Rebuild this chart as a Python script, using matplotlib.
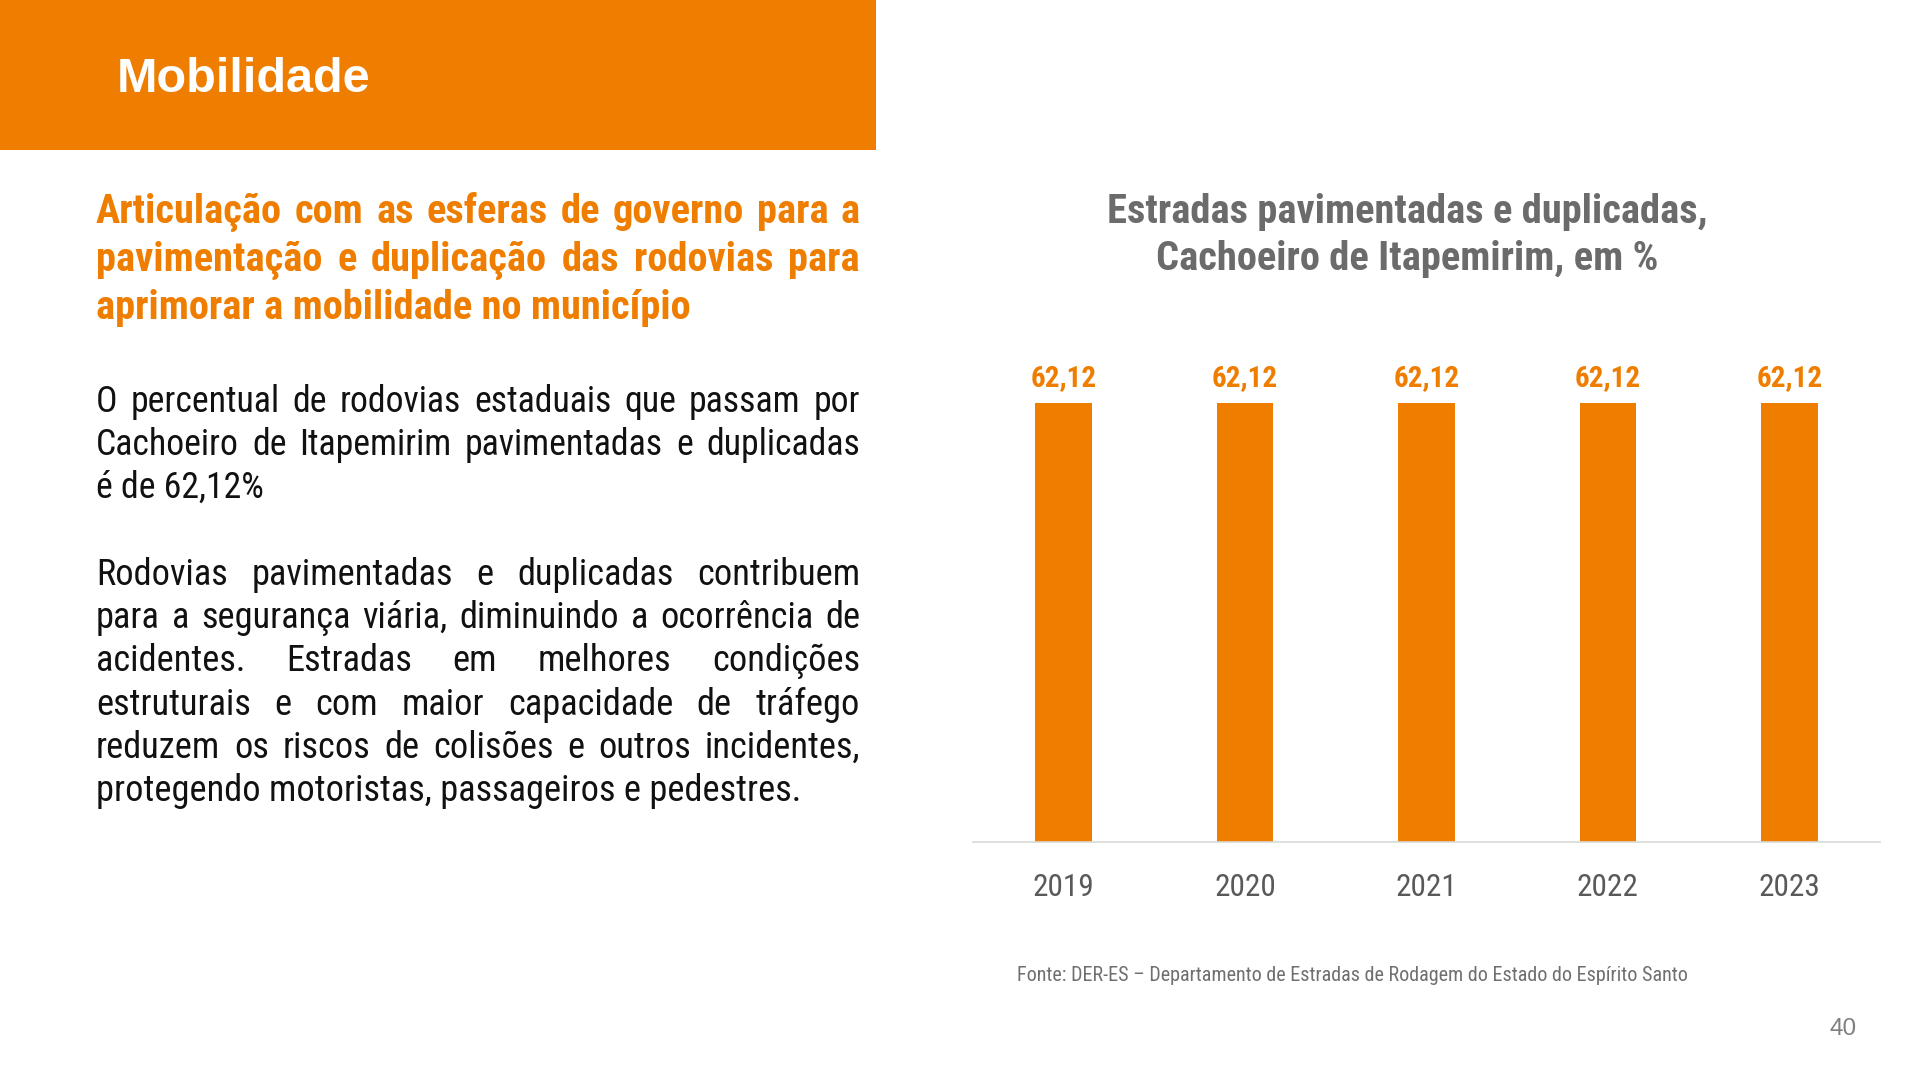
import numpy as np
import matplotlib
matplotlib.use("Agg")
import matplotlib.pyplot as plt
from matplotlib import font_manager as fm
from matplotlib.patches import Rectangle

# dados do gráfico
anos = ["2019", "2020", "2021", "2022", "2023"]
valores = [62.12, 62.12, 62.12, 62.12, 62.12]

titulo_pagina = "Mobilidade"
titulo_grafico = ["Estradas pavimentadas e duplicadas,", "Cachoeiro de Itapemirim, em %"]
fonte_txt = "Fonte: DER-ES \u2013 Departamento de Estradas de Rodagem do Estado do Espírito Santo"
pagina = "40"

destaque = ["Articulação com as esferas de governo para a",
            "pavimentação e duplicação das rodovias para",
            "aprimorar a mobilidade no município"]
paragrafo1 = ["O percentual de rodovias estaduais que passam por",
              "Cachoeiro de Itapemirim pavimentadas e duplicadas",
              "é de 62,12%"]
paragrafo2 = ["Rodovias pavimentadas e duplicadas contribuem",
              "para a segurança viária, diminuindo a ocorrência de",
              "acidentes. Estradas em melhores condições",
              "estruturais e com maior capacidade de tráfego",
              "reduzem os riscos de colisões e outros incidentes,",
              "protegendo motoristas, passageiros e pedestres."]

LARANJA = "#EE7D00"
W, H = 1920, 1080


# procura uma fonte condensada (parecida com a do relatório)
def acha_fonte(negrito):
    prefs = ["Roboto Condensed", "Liberation Sans Narrow", "Noto Sans", "Open Sans", "Roboto"]
    melhor = None
    for f in fm.fontManager.ttflist:
        nome = f.fname.lower()
        cond = str(f.stretch) in ("condensed", "semi-condensed", "extra-condensed") \
            or "narrow" in nome or "condensed" in nome
        if not cond or f.style != "normal":
            continue
        if "semicondensed" in nome or "extracondensed" in nome:
            continue
        try:
            peso = int(f.weight)
        except (TypeError, ValueError):
            peso = 700 if "bold" in str(f.weight) else 400
        if negrito and peso != 700:
            continue
        if not negrito and peso != 400:
            continue
        rank = len(prefs)
        for i, p in enumerate(prefs):
            if f.name.startswith(p):
                rank = i
                break
        if melhor is None or rank < melhor[0]:
            melhor = (rank, f.fname)
    return melhor[1] if melhor else None


ARQ_B = acha_fonte(True)
ARQ_R = acha_fonte(False)


def fonte(tam, negrito=False):
    arq = ARQ_B if negrito else ARQ_R
    if arq:
        return fm.FontProperties(fname=arq, size=tam)
    return fm.FontProperties(family=["Roboto", "DejaVu Sans"], size=tam,
                             weight="bold" if negrito else "normal")


def fonte_larga(tam, negrito=False):
    return fm.FontProperties(family=["Liberation Sans", "Roboto", "DejaVu Sans"], size=tam,
                             weight="bold" if negrito else "normal")


fig = plt.figure(figsize=(19.2, 10.8), dpi=100)
fig.patch.set_facecolor("white")
rend = fig.canvas.get_renderer()


def px(x, y):
    return x / W, 1 - y / H


# faixa laranja do título
fig.patches.append(Rectangle(px(0, 149.5), 876 / W, 149.5 / H, transform=fig.transFigure,
                             facecolor=LARANJA, edgecolor="none", zorder=0))
fig.text(*px(117, 92), titulo_pagina, fontproperties=fonte_larga(35, True), color="white",
         va="baseline", ha="left")


def largura(s, fp):
    t = fig.text(0, 0, s, fontproperties=fp)
    w = t.get_window_extent(rend).width
    t.remove()
    return w


def justificado(linhas, x0, larg, y0, passo, tam, negrito, cor):
    fp = fonte(tam, negrito)
    maior = max(largura(l, fp) for l in linhas[:-1])
    if maior > larg * 0.97:
        fp = fonte(tam * larg * 0.97 / maior, negrito)
    for i, linha in enumerate(linhas):
        y = y0 + i * passo
        palavras = linha.split()
        if i == len(linhas) - 1:
            fig.text(*px(x0, y), linha, fontproperties=fp, color=cor, va="baseline", ha="left")
            continue
        ws = [largura(p, fp) for p in palavras]
        gap = (larg - sum(ws)) / (len(palavras) - 1)
        x = x0
        for p, w in zip(palavras, ws):
            fig.text(*px(x, y), p, fontproperties=fp, color=cor, va="baseline", ha="left")
            x += w + gap


justificado(destaque, 96, 764, 223, 48, 29.2, True, LARANJA)
justificado(paragrafo1, 96, 764, 412, 43, 26.2, False, "#111111")
justificado(paragrafo2, 96, 764, 585, 43.2, 26.2, False, "#111111")

# título do gráfico
for i, linha in enumerate(titulo_grafico):
    fig.text(*px(1407, 223 + i * 47), linha, fontproperties=fonte(29.2, True), color="#6B6B6B",
             va="baseline", ha="center")

# gráfico de barras
ax = fig.add_axes([973 / W, 1 - 842 / H, 907 / W, (842 - 347.3) / H])
x = np.arange(len(anos))
ax.bar(x, valores, width=0.313, color=LARANJA, zorder=2)
ax.set_xlim(-0.5, len(anos) - 0.5)
ax.set_ylim(0, 70)
for xi, v in zip(x, valores):
    ax.annotate(f"{v:.2f}".replace(".", ","), (xi, v), xytext=(0, 12.2), textcoords="offset points",
                ha="center", va="baseline", color=LARANJA, fontproperties=fonte(21, True))
for s in ["top", "right", "left"]:
    ax.spines[s].set_visible(False)
ax.spines["bottom"].set_color("#D9D9D9")
ax.spines["bottom"].set_linewidth(1.2)
ax.set_yticks([])
ax.set_xticks(x)
ax.set_xticklabels(anos)
ax.tick_params(axis="x", length=0, pad=22, colors="#595959")
for lab in ax.get_xticklabels():
    lab.set_fontproperties(fonte(22.5))
    lab.set_color("#595959")

fig.text(*px(1017, 981), fonte_txt, fontproperties=fonte(14.5), color="#6F6F6F",
         va="baseline", ha="left")
fig.text(*px(1857, 1035), pagina, fontproperties=fonte_larga(17.5), color="#7F7F7F",
         va="baseline", ha="right")

fig.savefig("out.png", dpi=100)
